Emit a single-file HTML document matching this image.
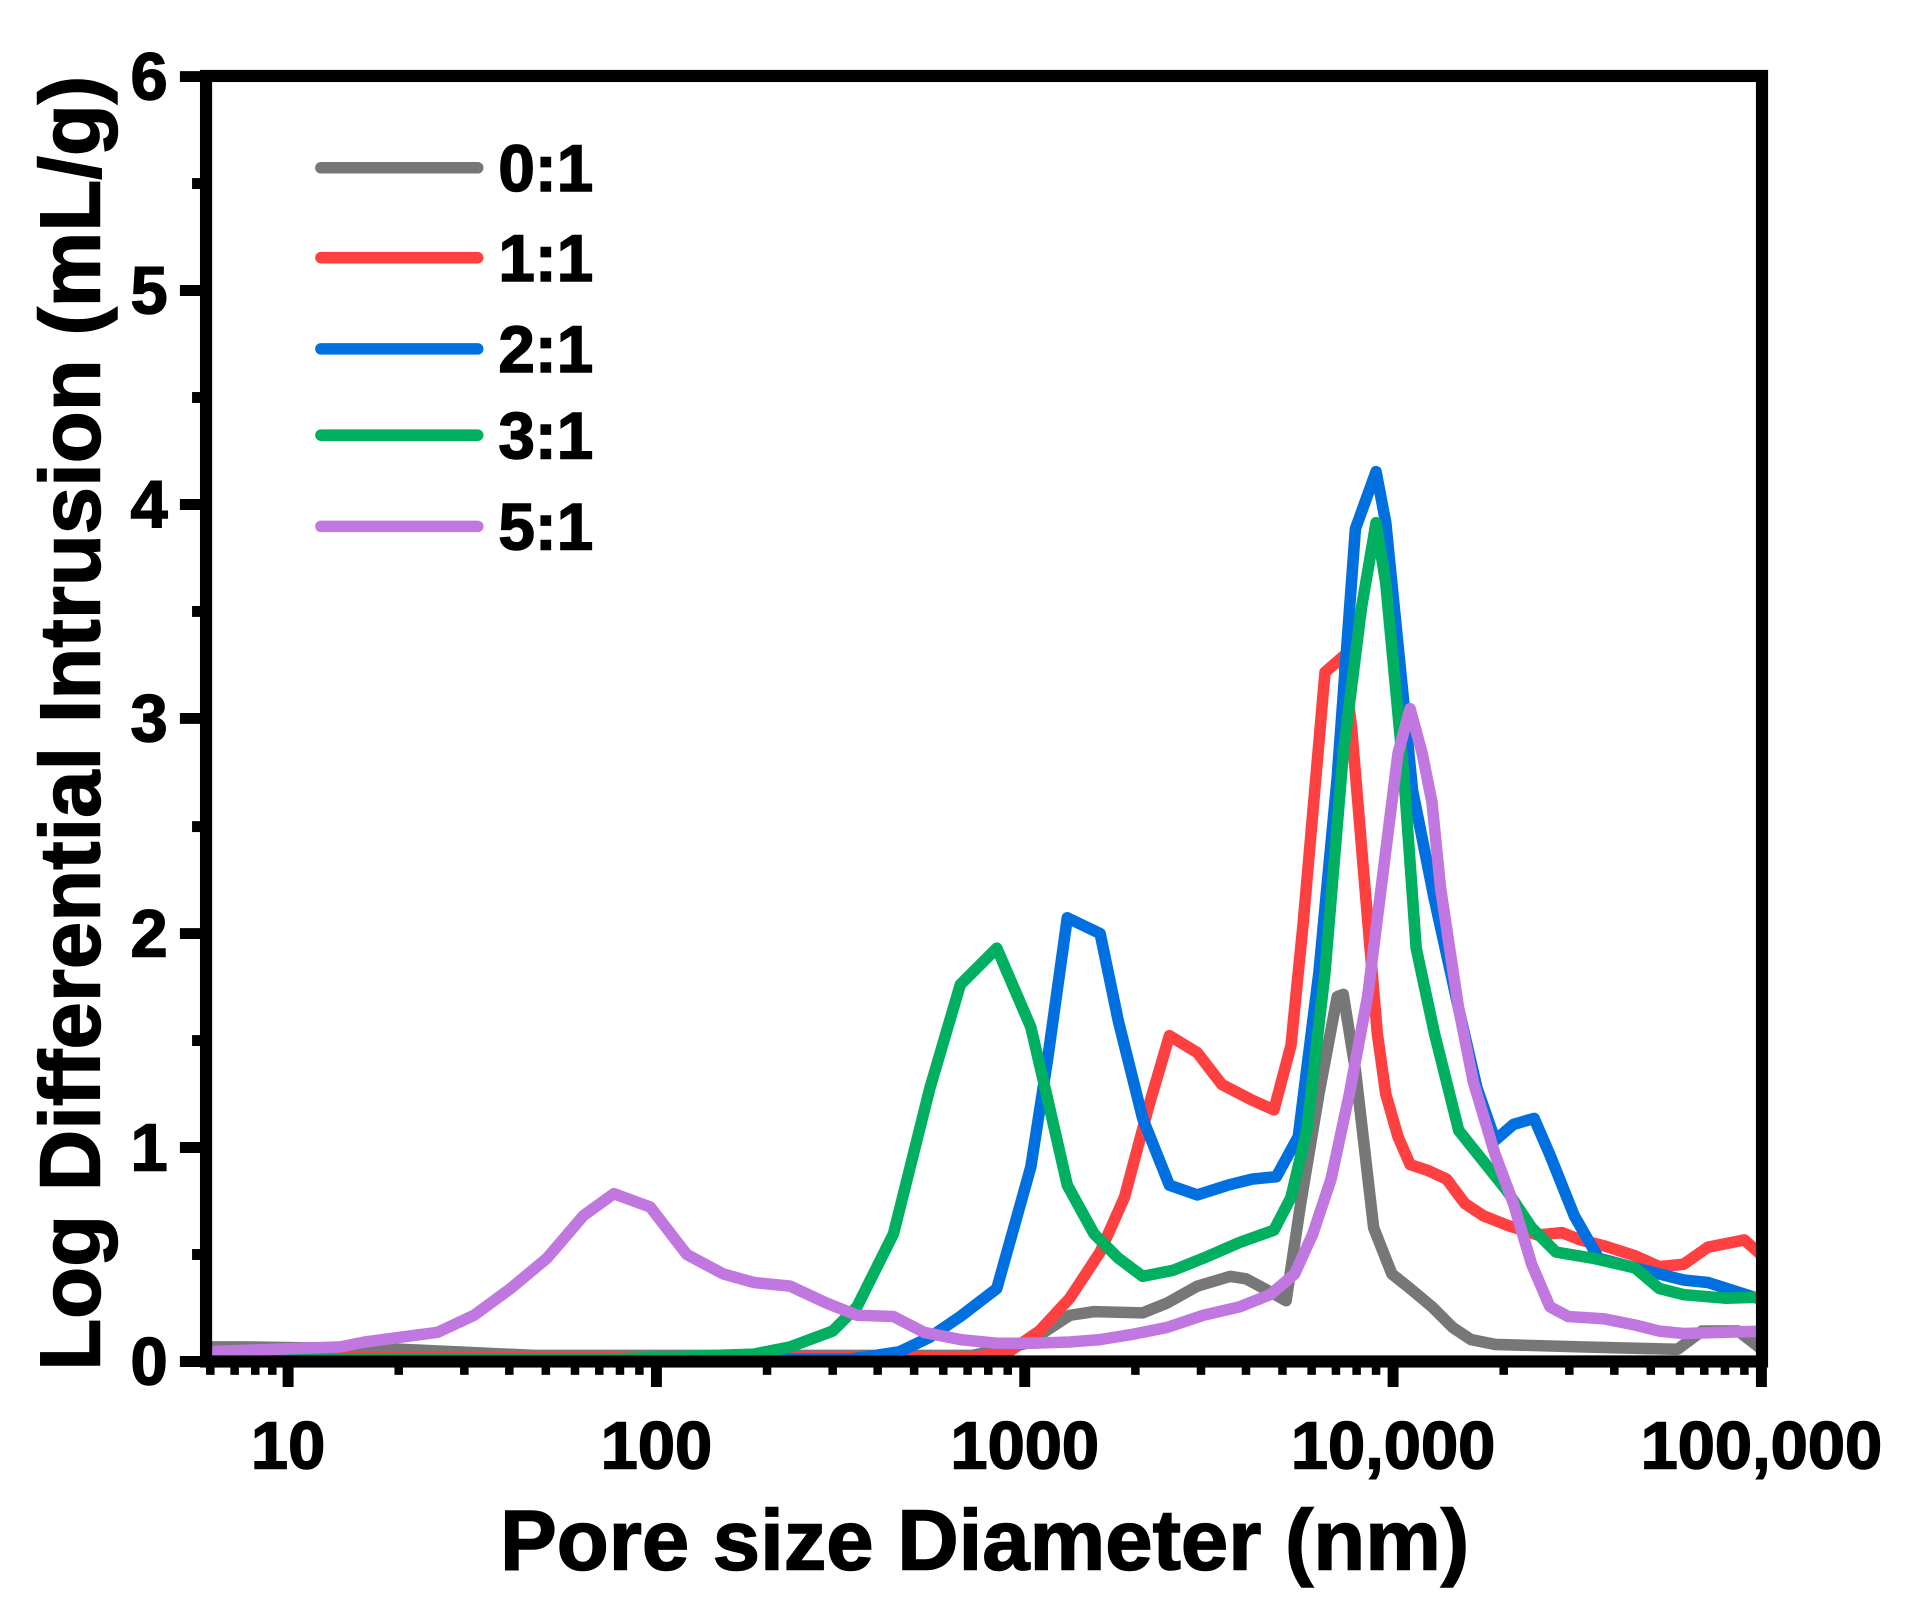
<!DOCTYPE html>
<html><head><style>
body{margin:0;background:#fff}
svg{display:block}
text{font-family:"Liberation Sans",Arial,sans-serif;font-weight:bold;fill:#000;stroke:#000;stroke-width:1.2}
</style></head><body>
<svg width="1906" height="1617" viewBox="0 0 1906 1617" xmlns="http://www.w3.org/2000/svg">
<defs><clipPath id="c"><rect x="169.5" y="62.5" width="1280" height="1057.5"/></clipPath></defs>
<g transform="scale(1.2156)">
<g clip-path="url(#c)" fill="none" stroke-width="9.5" stroke-linejoin="round" stroke-linecap="round">
<polyline stroke="#777777" points="170,1108 200,1108 330,1110 440,1115 800,1115 845,1105 880,1082 900,1079 940,1080 960,1072 985,1058 1012,1050 1025,1052 1040,1060 1058,1070 1070,990 1085,900 1100,820 1105,818 1115,880 1130,1010 1145,1048 1160,1060 1178,1075 1195,1092 1210,1102 1230,1106 1300,1108 1380,1110 1400,1095 1430,1095 1452,1112"/>
<polyline stroke="#ff4040" points="170,1117 800,1117 830,1112 855,1095 880,1068 905,1030 925,985 945,910 962,852 985,866 1005,892 1030,905 1048,913 1062,860 1072,760 1090,553 1105,540 1112,600 1122,720 1133,850 1140,900 1150,935 1160,958 1175,963 1190,970 1205,990 1220,1000 1240,1008 1265,1016 1285,1014 1300,1020 1320,1025 1345,1033 1365,1042 1385,1040 1405,1026 1435,1020 1452,1035"/>
<polyline stroke="#0070e0" points="170,1118 700,1118 740,1112 765,1100 790,1083 820,1060 848,960 862,870 878,755 905,768 920,840 940,920 962,975 985,983 1010,975 1030,970 1050,968 1068,935 1085,800 1100,640 1115,435 1132,388 1140,430 1150,530 1162,650 1180,740 1200,830 1215,895 1230,938 1245,925 1262,920 1275,950 1295,1000 1315,1035 1345,1043 1385,1053 1405,1055 1452,1070"/>
<polyline stroke="#00b060" points="170,1118 500,1118 620,1114 650,1108 685,1095 705,1075 735,1015 765,895 790,810 820,780 848,845 862,905 878,975 900,1015 920,1035 940,1050 965,1045 990,1035 1020,1022 1048,1012 1062,985 1075,930 1090,800 1105,620 1120,500 1132,430 1140,480 1155,640 1165,780 1180,850 1200,930 1220,955 1240,980 1260,1010 1280,1030 1310,1035 1345,1043 1365,1060 1385,1065 1420,1068 1452,1067"/>
<polyline stroke="#c078e0" points="170,1112 280,1108 300,1104 330,1100 360,1096 390,1082 420,1060 450,1035 480,1000 505,982 535,993 565,1032 595,1048 620,1055 650,1058 680,1072 705,1082 735,1083 760,1096 790,1102 820,1105 850,1105 880,1104 905,1102 930,1098 960,1092 990,1082 1020,1075 1045,1065 1065,1048 1080,1015 1095,970 1110,900 1125,820 1140,700 1150,620 1160,583 1170,620 1178,660 1185,730 1200,830 1212,890 1230,950 1245,990 1260,1040 1275,1075 1290,1083 1320,1085 1345,1090 1365,1095 1385,1097 1452,1095"/>
</g>
<rect x="169.5" y="62.5" width="1280" height="1057.5" fill="none" stroke="#000" stroke-width="10"/>
<g stroke="#000" stroke-width="9">
<line x1="148" y1="1120" x2="170" y2="1120"/><line x1="148" y1="944" x2="170" y2="944"/><line x1="148" y1="768" x2="170" y2="768"/><line x1="148" y1="591" x2="170" y2="591"/><line x1="148" y1="415" x2="170" y2="415"/><line x1="148" y1="239" x2="170" y2="239"/><line x1="148" y1="63" x2="170" y2="63"/>
<line x1="158" y1="1032" x2="170" y2="1032"/><line x1="158" y1="856" x2="170" y2="856"/><line x1="158" y1="680" x2="170" y2="680"/><line x1="158" y1="503" x2="170" y2="503"/><line x1="158" y1="327" x2="170" y2="327"/><line x1="158" y1="151" x2="170" y2="151"/>
<line x1="237" y1="1120" x2="237" y2="1141"/><line x1="540" y1="1120" x2="540" y2="1141"/><line x1="843" y1="1120" x2="843" y2="1141"/><line x1="1146" y1="1120" x2="1146" y2="1141"/><line x1="1449" y1="1120" x2="1449" y2="1141"/>
</g>
<g stroke="#000" stroke-width="7">
<line x1="173" y1="1120" x2="173" y2="1131"/><line x1="193" y1="1120" x2="193" y2="1131"/><line x1="210" y1="1120" x2="210" y2="1131"/><line x1="224" y1="1120" x2="224" y2="1131"/>
<line x1="328" y1="1120" x2="328" y2="1131"/><line x1="382" y1="1120" x2="382" y2="1131"/><line x1="419" y1="1120" x2="419" y2="1131"/><line x1="449" y1="1120" x2="449" y2="1131"/><line x1="473" y1="1120" x2="473" y2="1131"/><line x1="493" y1="1120" x2="493" y2="1131"/><line x1="510" y1="1120" x2="510" y2="1131"/><line x1="526" y1="1120" x2="526" y2="1131"/>
<line x1="631" y1="1120" x2="631" y2="1131"/><line x1="685" y1="1120" x2="685" y2="1131"/><line x1="722" y1="1120" x2="722" y2="1131"/><line x1="752" y1="1120" x2="752" y2="1131"/><line x1="776" y1="1120" x2="776" y2="1131"/><line x1="796" y1="1120" x2="796" y2="1131"/><line x1="813" y1="1120" x2="813" y2="1131"/><line x1="829" y1="1120" x2="829" y2="1131"/>
<line x1="934" y1="1120" x2="934" y2="1131"/><line x1="988" y1="1120" x2="988" y2="1131"/><line x1="1025" y1="1120" x2="1025" y2="1131"/><line x1="1055" y1="1120" x2="1055" y2="1131"/><line x1="1079" y1="1120" x2="1079" y2="1131"/><line x1="1099" y1="1120" x2="1099" y2="1131"/><line x1="1116" y1="1120" x2="1116" y2="1131"/><line x1="1132" y1="1120" x2="1132" y2="1131"/>
<line x1="1237" y1="1120" x2="1237" y2="1131"/><line x1="1291" y1="1120" x2="1291" y2="1131"/><line x1="1328" y1="1120" x2="1328" y2="1131"/><line x1="1358" y1="1120" x2="1358" y2="1131"/><line x1="1382" y1="1120" x2="1382" y2="1131"/><line x1="1402" y1="1120" x2="1402" y2="1131"/><line x1="1419" y1="1120" x2="1419" y2="1131"/><line x1="1435" y1="1120" x2="1435" y2="1131"/>
</g>
<g font-size="55" text-anchor="end">
<text x="138" y="1139">0</text><text x="138" y="963">1</text><text x="138" y="787">2</text><text x="138" y="610">3</text><text x="138" y="434">4</text><text x="138" y="258">5</text><text x="138" y="82">6</text>
</g>
<g font-size="55" text-anchor="middle">
<text x="237" y="1208">10</text><text x="540" y="1208">100</text><text x="843" y="1208">1000</text><text x="1146" y="1208">10,000</text><text x="1449" y="1208">100,000</text>
</g>
<text x="810" y="1291" font-size="70" text-anchor="middle">Pore size Diameter (nm)</text>
<text transform="translate(82,595) rotate(-90)" font-size="70" text-anchor="middle">Log Differential Intrusion (mL/g)</text>
<g stroke-width="9.5" stroke-linecap="round">
<line x1="264" y1="138" x2="393" y2="138" stroke="#777777"/>
<line x1="264" y1="212" x2="393" y2="212" stroke="#ff4040"/>
<line x1="264" y1="287" x2="393" y2="287" stroke="#0070e0"/>
<line x1="264" y1="358" x2="393" y2="358" stroke="#00b060"/>
<line x1="264" y1="433" x2="393" y2="433" stroke="#c078e0"/>
</g>
<g font-size="54">
<text x="410" y="157">0:1</text><text x="410" y="231">1:1</text><text x="410" y="306">2:1</text><text x="410" y="377">3:1</text><text x="410" y="452">5:1</text>
</g>
</g>
</svg>
</body></html>
